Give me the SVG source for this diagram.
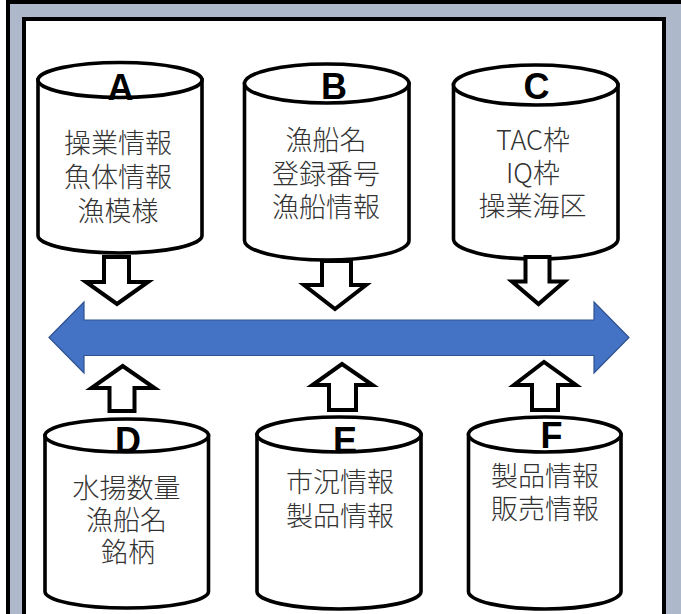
<svg xmlns="http://www.w3.org/2000/svg" width="681" height="614" viewBox="0 0 681 614">
<style>
.cyl{fill:#fff;stroke:#000;stroke-width:3.6}
.lbl{font-family:"Liberation Sans",Arial,sans-serif;font-weight:bold;font-size:36px;fill:#000;text-anchor:middle}
.txt{font-family:"Noto Sans CJK JP","Noto Sans CJK SC",sans-serif;font-weight:300;font-size:27px;fill:#333;text-anchor:middle}
.arr{fill:#fff;stroke:#000;stroke-width:4;stroke-linejoin:miter}
</style>
<rect x="0" y="0" width="681" height="614" fill="#fff"/>
<rect x="8" y="2" width="700" height="640" fill="#ADB9CA" stroke="#000" stroke-width="4"/>
<rect x="24" y="19" width="640" height="620" fill="#fff" stroke="#000" stroke-width="4"/>

<g id="nodeA">
<path class="cyl" d="M38,80 L38,235.5 A82,17.5 0 0 0 202,235.5 L202,80 Z"/>
<ellipse class="cyl" cx="120" cy="80" rx="82" ry="17.5"/>
<text class="lbl" x="120.5" y="100">A</text>
<text class="txt" x="118" y="153">操業情報</text>
<text class="txt" x="118" y="187">魚体情報</text>
<text class="txt" x="118" y="221">漁模様</text>
</g>
<g id="nodeB">
<path class="cyl" d="M244.5,83.5 L244.5,240.5 A82.25,19.5 0 0 0 409,240.5 L409,83.5 Z"/>
<ellipse class="cyl" cx="326.75" cy="83.5" rx="82.25" ry="19.5"/>
<text class="lbl" x="334" y="99">B</text>
<text class="txt" x="326" y="150">漁船名</text>
<text class="txt" x="326" y="183.5">登録番号</text>
<text class="txt" x="326" y="217">漁船情報</text>
</g>
<g id="nodeC">
<path class="cyl" d="M453.5,85 L453.5,239 A82.25,20 0 0 0 618,239 L618,85 Z"/>
<ellipse class="cyl" cx="535.75" cy="85" rx="82.25" ry="20"/>
<text class="lbl" x="536.5" y="99">C</text>
<text class="txt" x="533" y="149.5">TAC枠</text>
<text class="txt" x="533" y="183">IQ枠</text>
<text class="txt" x="532.5" y="216">操業海区</text>
</g>
<g id="nodeD">
<path class="cyl" d="M45,435.5 L45,591.5 A81.75,16.5 0 0 0 208.5,591.5 L208.5,435.5 Z"/>
<ellipse class="cyl" cx="126.75" cy="435.5" rx="81.75" ry="16.5"/>
<text class="lbl" x="128" y="453">D</text>
<text class="txt" x="126.5" y="498">水揚数量</text>
<text class="txt" x="126.5" y="530">漁船名</text>
<text class="txt" x="128" y="562">銘柄</text>
</g>
<g id="nodeE">
<path class="cyl" d="M257,434.5 L257,591.5 A82,17.5 0 0 0 421,591.5 L421,434.5 Z"/>
<ellipse class="cyl" cx="339" cy="434.5" rx="82" ry="17.5"/>
<text class="lbl" x="345" y="453">E</text>
<text class="txt" x="340" y="492">市況情報</text>
<text class="txt" x="340" y="526">製品情報</text>
</g>
<g id="nodeF">
<path class="cyl" d="M468.5,434.5 L468.5,591.5 A76.25,17.5 0 0 0 621,591.5 L621,434.5 Z"/>
<ellipse class="cyl" cx="544.75" cy="434.5" rx="76.25" ry="17.5"/>
<text class="lbl" x="551.5" y="448">F</text>
<text class="txt" x="545" y="486">製品情報</text>
<text class="txt" x="545" y="519">販売情報</text>
</g>

<g id="connectors">
<polygon id="bus" points="49,337.5 84,302 84,320 594,320 594,302 629,337.5 594,373 594,355.5 84,355.5 84,373" fill="#4472C4" stroke="#2F528F" stroke-width="1.2"/>
<polygon class="arr" points="104,257 129,257 129,282 148,282 117,304 86,282 104,282"/>
<polygon class="arr" points="322,261 351,261 351,285 366,285 335,309 304,285 322,285"/>
<polygon class="arr" points="525.5,257 549.5,257 549.5,281.5 564.5,281.5 538.5,304 512,281.5 525.5,281.5"/>
<polygon class="arr" points="109.5,411 134.5,411 134.5,388 154.5,388 122.7,366 91.5,388 109.5,388"/>
<polygon class="arr" points="329,410 356,410 356,385 372.5,385 342,364 312.5,385 329,385"/>
<polygon class="arr" points="532,410 558,410 558,385 576,385 544,362 514,385 532,385"/>
</g>
</svg>
